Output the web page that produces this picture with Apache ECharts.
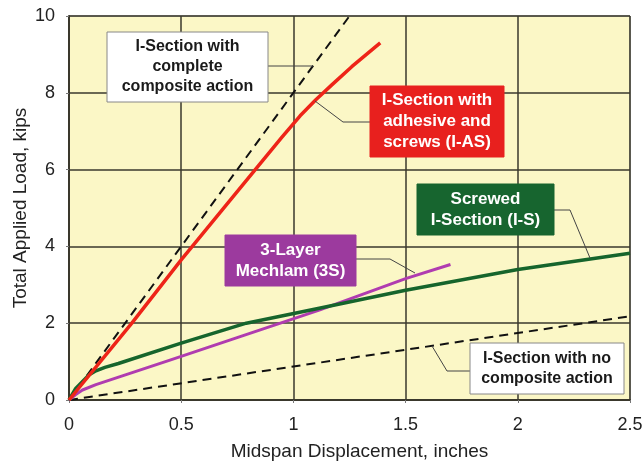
<!DOCTYPE html>
<html>
<head>
<meta charset="utf-8">
<script src="https://cdn.jsdelivr.net/npm/echarts@6/dist/echarts.min.js"></script>
<style>
  html, body { margin: 0; padding: 0; background: #fff; }
  #chart { width: 643px; height: 468px; }
</style>
</head>
<body>
<div id="chart"></div>
<script>
// displacement (in) / load (kips)
const dispComplete = [0, 1.25];
const loadComplete = [0, 10];
const dispIAS = [0, 0.28, 0.5, 0.83, 0.95, 1.03, 1.1, 1.17, 1.26, 1.387];
const loadIAS = [0, 2, 3.65, 6, 6.85, 7.4, 7.82, 8.2, 8.68, 9.3];
const dispIS = [0, 0.03, 0.09, 0.12, 0.16, 0.22, 0.5, 0.79, 1.115, 1.5, 2, 2.5];
const loadIS = [0, 0.3, 0.66, 0.76, 0.85, 0.95, 1.48, 2, 2.39, 2.86, 3.4, 3.82];
const dispMech = [0, 0.03, 0.06, 0.12, 0.45, 1.115, 1.5, 1.7];
const loadMech = [0, 0.14, 0.26, 0.4, 1.04, 2.34, 3.16, 3.53];
const dispNone = [0, 2.5];
const loadNone = [0, 2.18];

const pairs = (xs, ys) => xs.map((x, i) => [x, ys[i]]);

const font = 'Liberation Sans, Arial, sans-serif';
const gridLine = '#3a382c';

const box = (x, y, w, h, lines, fill, textColor, size, lh, stroke) => ({
  type: 'group',
  x: x, y: y, z: 100,
  children: [
    {type: 'rect', z: 100, shape: {x: 0, y: 0, width: w, height: h},
     style: {fill: fill, stroke: stroke || fill, lineWidth: 1}},
    {type: 'text', z: 101, x: w / 2, y: h / 2,
     style: {text: lines.join('\n'), fill: textColor, font: 'bold ' + size + 'px ' + font,
             align: 'center', verticalAlign: 'middle', lineHeight: lh}}
  ]
});
const leader = (pts) => ({
  type: 'polyline', z: 99, shape: {points: pts},
  style: {stroke: '#444', lineWidth: 1, fill: null}
});

const chart = echarts.init(document.getElementById('chart'));
chart.setOption({
  animation: false,
  backgroundColor: '#fff',
  grid: {left: 69, right: 13, top: 16, bottom: 68, show: true, containLabel: false,
         outerBoundsMode: 'none',
         backgroundColor: '#fbf7c6', borderColor: '#777', borderWidth: 1},
  xAxis: {
    type: 'value', min: 0, max: 2.5, interval: 0.5,
    name: 'Midspan Displacement, inches', nameLocation: 'middle', nameGap: 42,
    nameMoveOverlap: false,
    nameTextStyle: {fontSize: 19, color: '#222', fontFamily: font, padding: [0, 0, 0, 20]},
    axisLine: {show: true, lineStyle: {color: gridLine, width: 2}},
    axisTick: {show: true, length: 3, lineStyle: {color: '#777'}},
    axisLabel: {fontSize: 18, color: '#222', fontFamily: font, margin: 16,
                formatter: v => String(v)},
    splitLine: {show: true, lineStyle: {color: gridLine, width: 1.5}}
  },
  yAxis: {
    type: 'value', min: 0, max: 10, interval: 2,
    name: 'Total Applied Load, kips', nameLocation: 'middle', nameGap: 39,
    nameMoveOverlap: false,
    nameTextStyle: {fontSize: 19, color: '#222', fontFamily: font},
    axisLine: {show: true, lineStyle: {color: gridLine, width: 2}},
    axisTick: {show: true, length: 3, lineStyle: {color: '#777'}},
    axisLabel: {fontSize: 18, color: '#222', fontFamily: font, margin: 14},
    splitLine: {show: true, lineStyle: {color: gridLine, width: 1.5}}
  },
  series: [
    {type: 'line', data: pairs(dispNone, loadNone), symbol: 'none',
     lineStyle: {color: '#111', width: 2, type: [9, 6]}},
    {type: 'line', data: pairs(dispComplete, loadComplete), symbol: 'none',
     lineStyle: {color: '#111', width: 2, type: [9, 6]}},
    {type: 'line', data: pairs(dispMech, loadMech), symbol: 'none',
     lineStyle: {color: '#b03cb0', width: 3, join: 'round'}},
    {type: 'line', data: pairs(dispIS, loadIS), symbol: 'none',
     lineStyle: {color: '#16652c', width: 3.5, join: 'round'}},
    {type: 'line', data: pairs(dispIAS, loadIAS), symbol: 'none',
     lineStyle: {color: '#ee2418', width: 3.5, join: 'round'}}
  ],
  graphic: [
    leader([[268, 66], [313, 66]]),
    box(107, 32, 161, 70, ['I-Section with', 'complete', 'composite action'], '#fff', '#1a1a1a', 16, 20, '#888'),
    leader([[315, 101], [343, 122], [370, 122]]),
    box(370, 86, 134, 71, ['I-Section with', 'adhesive and', 'screws (I-AS)'], '#e8201e', '#fff', 17, 21),
    leader([[554, 210], [570, 210], [590, 258]]),
    box(417, 184, 137, 51, ['Screwed', 'I-Section (I-S)'], '#17652f', '#fff', 17, 21),
    leader([[356, 259], [390, 259], [415, 273]]),
    box(225, 235, 131, 51, ['3-Layer', 'Mechlam (3S)'], '#9c3a9e', '#fff', 17, 21),
    leader([[432, 346], [447, 371], [470, 371]]),
    box(470, 343, 154, 51, ['I-Section with no', 'composite action'], '#fff', '#1a1a1a', 16, 20, '#888')
  ]
});
</script>
</body>
</html>
